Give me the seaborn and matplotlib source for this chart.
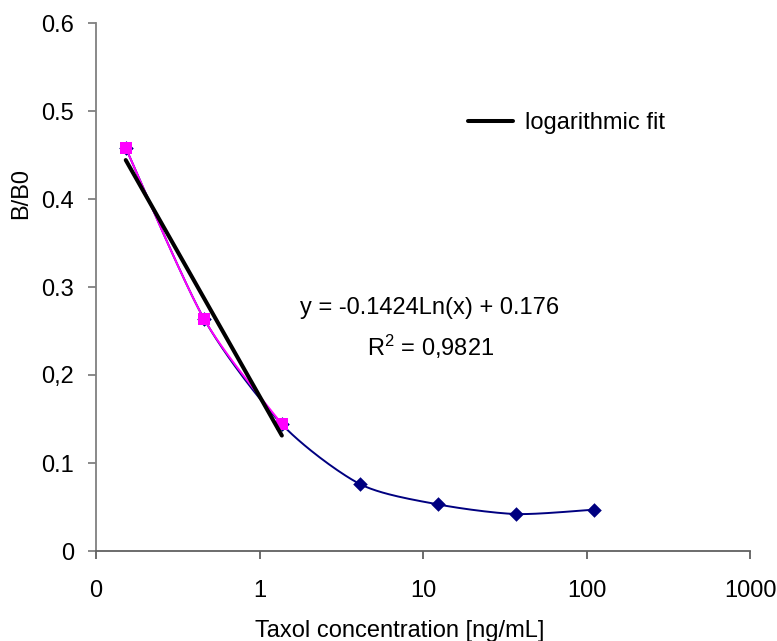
import numpy as np
import seaborn as sns
import matplotlib.pyplot as plt
from matplotlib.lines import Line2D

# data
conc = [0.152, 0.457, 1.37, 4.12, 12.3, 37.0, 111.0]
bb0 = [0.458, 0.264, 0.144, 0.076, 0.053, 0.042, 0.047]
n_fit = 3  # points used for the logarithmic fit
fit_a = -0.1424
fit_b = 0.176
eq_text = "y = -0.1424Ln(x) + 0.176"
r2_text = "= 0,9821"

x_ticks = [0.1, 1, 10, 100, 1000]
x_ticklabels = ["0", "1", "10", "100", "1000"]
y_ticks = [0, 0.1, 0.2, 0.3, 0.4, 0.5, 0.6]
y_ticklabels = ["0", "0.1", "0,2", "0.3", "0.4", "0.5", "0.6"]


def smooth(xs, ys, n=40, k=0.13):
    # excel-like smoothed line: bezier in (log x, y) space
    lx = np.log10(xs)
    ys = np.asarray(ys, dtype=float)
    pts = np.column_stack([lx, ys])
    out = [pts[0]]
    for i in range(len(pts) - 1):
        p0 = pts[max(i - 1, 0)]
        p1 = pts[i]
        p2 = pts[i + 1]
        p3 = pts[min(i + 2, len(pts) - 1)]
        c1 = p1 + (p2 - p0) * k
        c2 = p2 - (p3 - p1) * k
        t = np.linspace(0, 1, n)[1:, None]
        seg = ((1 - t) ** 3) * p1 + 3 * ((1 - t) ** 2) * t * c1 + 3 * (1 - t) * t ** 2 * c2 + t ** 3 * p2
        out.extend(seg)
    out = np.array(out)
    return 10 ** out[:, 0], out[:, 1]


sns.set_theme(style="white")
plt.rcParams['font.family'] = ['Liberation Sans', 'DejaVu Sans']
plt.rcParams['mathtext.fontset'] = 'custom'
plt.rcParams['mathtext.rm'] = 'Liberation Sans'
plt.rcParams['mathtext.default'] = 'regular'
plt.rcParams['text.color'] = 'black'
plt.rcParams['axes.labelcolor'] = 'black'
plt.rcParams['xtick.color'] = 'black'
plt.rcParams['ytick.color'] = 'black'

fig = plt.figure(figsize=(7.77, 6.41), dpi=100)
ax = fig.add_axes([96 / 777, 90 / 641, 654 / 777, 528 / 641])
ax.set_xscale("log")

# blue smoothed curve over all points
sx, sy = smooth(conc, bb0)
sns.lineplot(x=sx, y=sy, sort=False, estimator=None, color="#000080", lw=1.4, ax=ax)
sns.scatterplot(x=conc, y=bb0, marker="D", s=55, color="#000080", linewidth=0, ax=ax, zorder=3)

# magenta part used for the fit
mx, my = smooth(conc[:n_fit], bb0[:n_fit])
sns.lineplot(x=mx, y=my, sort=False, estimator=None, color="#FF00FF", lw=1.4, ax=ax)
sns.scatterplot(x=conc[:n_fit], y=bb0[:n_fit], marker="s", s=80, color="#FF00FF", linewidth=0, ax=ax, zorder=4)

# logarithmic fit line
fx = np.array([conc[0], conc[n_fit - 1]])
fy = fit_a * np.log(fx) + fit_b
ax.plot(fx, fy, color="black", lw=2.9, zorder=5)

ax.set_xlim(0.1, 1000)
ax.set_ylim(0, 0.6)
ax.set_xticks(x_ticks)
ax.set_xticklabels(x_ticklabels)
ax.xaxis.set_minor_locator(plt.NullLocator())
ax.set_yticks(y_ticks)
ax.set_yticklabels(y_ticklabels)

for side in ["top", "right"]:
    ax.spines[side].set_visible(False)
ax.spines["left"].set_color("#808080")
ax.spines["bottom"].set_color("#606060")
ax.spines["left"].set_linewidth(1.3)
ax.spines["bottom"].set_linewidth(1.3)
ax.tick_params(axis="y", direction="out", length=6, width=1.3, color="#808080",
               labelcolor="black", labelsize=17, pad=10, left=True)
ax.tick_params(axis="x", direction="out", length=6, width=1.3, color="#606060",
               labelcolor="black", labelsize=17, pad=15, bottom=True)

ax.set_xlabel("Taxol concentration [ng/mL]", fontsize=17, color="black")
ax.xaxis.set_label_coords(0.465, -0.13)
ax.set_ylabel("B/B0", fontsize=17, color="black")
ax.yaxis.set_label_coords(-0.098, 0.678)

# equation and r squared
fig.text(300 / 777, 1 - 308 / 641, eq_text, fontsize=17, ha="left", va="center", color="black")
fig.text(367 / 777, 1 - 347 / 641, "R$^{2}$ " + r2_text, fontsize=17, ha="left", va="center", color="black")

handle = Line2D([], [], color="black", lw=2.9)
leg = fig.legend([handle], ["logarithmic fit"], loc="center left",
                 bbox_to_anchor=(468 / 777, 1 - 123 / 641), frameon=False,
                 fontsize=17, handlelength=1.9, handletextpad=0.5, borderpad=0, borderaxespad=0)
for t in leg.get_texts():
    t.set_color("black")

fig.savefig("out.png", dpi=100)
